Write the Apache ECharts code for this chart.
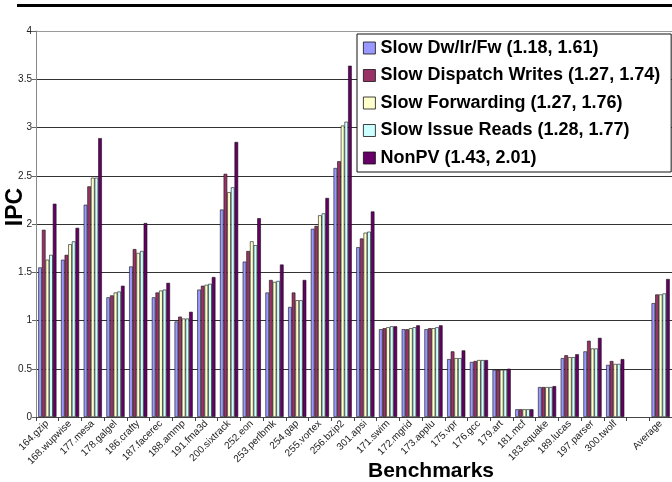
<!DOCTYPE html>
<html>

<head>
	<meta charset="utf-8">
	<title>IPC</title>
	<style type="text/css">
	html, body {
		margin: 0;
		padding: 0;
		background: #fff;
	}

	#chart {
		width: 672px;
		height: 482px;
	}
	</style>
</head>

<body>
	<div id="chart"></div>
	<script src="https://cdn.jsdelivr.net/npm/echarts@6/dist/echarts.min.js"></script>
	<script>
	var benchmarks = ['164.gzip', '168.wupwise', '177.mesa', '178.galgel', '186.crafty', '187.facerec', '188.ammp',
		'191.fma3d', '200.sixtrack', '252.eon', '253.perlbmk', '254.gap', '255.vortex', '256.bzip2', '301.apsi',
		'171.swim', '172.mgrid', '173.applu', '175.vpr', '176.gcc', '179.art', '181.mcf', '183.equake', '189.lucas',
		'197.parser', '300.twolf', '', 'Average'];

	var legendNames = ['Slow Dw/Ir/Fw (1.18, 1.61)', 'Slow Dispatch Writes (1.27, 1.74)', 'Slow Forwarding (1.27, 1.76)',
		'Slow Issue Reads (1.28, 1.77)', 'NonPV (1.43, 2.01)'];
	var colors = ['#9999ff', '#993366', '#ffffcc', '#ccffff', '#660066'];

	var dwIrFw = [1.55, 1.63, 2.20, 1.24, 1.56, 1.24, 0.99, 1.32, 2.15, 1.61, 1.29, 1.14, 1.95, 2.58, 1.76,
		0.91, 0.91, 0.91, 0.60, 0.57, 0.49, 0.08, 0.31, 0.61, 0.68, 0.54, null, 1.18];
	var dispatchWrites = [1.94, 1.68, 2.39, 1.26, 1.74, 1.29, 1.04, 1.36, 2.52, 1.72, 1.42, 1.29, 1.98, 2.65, 1.85,
		0.92, 0.91, 0.92, 0.68, 0.58, 0.49, 0.08, 0.31, 0.64, 0.79, 0.58, null, 1.27];
	var forwarding = [1.63, 1.79, 2.48, 1.29, 1.70, 1.31, 1.02, 1.37, 2.33, 1.82, 1.40, 1.21, 2.09, 3.02, 1.91,
		0.93, 0.92, 0.92, 0.61, 0.59, 0.49, 0.08, 0.31, 0.62, 0.71, 0.55, null, 1.27];
	var issueReads = [1.68, 1.82, 2.48, 1.30, 1.72, 1.32, 1.02, 1.38, 2.38, 1.78, 1.41, 1.21, 2.11, 3.06, 1.92,
		0.94, 0.93, 0.93, 0.61, 0.59, 0.49, 0.08, 0.31, 0.62, 0.71, 0.55, null, 1.28];
	var nonPV = [2.21, 1.96, 2.89, 1.36, 2.01, 1.39, 1.09, 1.45, 2.85, 2.06, 1.58, 1.42, 2.27, 3.64, 2.13,
		0.94, 0.95, 0.95, 0.69, 0.59, 0.50, 0.08, 0.32, 0.65, 0.82, 0.60, null, 1.43];

	var font = "'Liberation Sans', Arial, sans-serif";
	var allSeries = [dwIrFw, dispatchWrites, forwarding, issueReads, nonPV];

	function makeSeries(i) {
		return {
			name: legendNames[i],
			type: 'bar',
			barGap: '0%',
			barCategoryGap: '20%',
			animation: false,
			itemStyle: {
				color: colors[i],
				borderColor: '#111',
				borderWidth: 0.6
			},
			data: allSeries[i]
		};
	}

	var chart = echarts.init(document.getElementById('chart'));
	chart.setOption({
		backgroundColor: '#fff',
		textStyle: { fontFamily: font },
		grid: {
			left: 36,
			right: -4,
			top: 31,
			bottom: 65
		},
		legend: {
			orient: 'vertical',
			left: 357,
			top: 34,
			padding: [5, 11, 5, 6],
			itemWidth: 12,
			itemHeight: 12,
			itemGap: 9.5,
			icon: 'rect',
			backgroundColor: '#fff',
			borderColor: '#111',
			borderWidth: 1,
			itemStyle: { borderColor: '#111', borderWidth: 0.8 },
			textStyle: {
				fontFamily: font,
				fontSize: 18,
				fontWeight: 'bold',
				color: '#000',
				lineHeight: 18
			},
			data: legendNames
		},
		xAxis: {
			type: 'category',
			data: benchmarks,
			axisLine: { lineStyle: { color: '#444', width: 1 } },
			axisTick: { show: true, interval: 0, length: 4, lineStyle: { color: '#444' } },
			axisLabel: {
				interval: 0,
				rotate: 45,
				fontSize: 10,
				color: '#222',
				margin: 5,
				fontFamily: font
			}
		},
		yAxis: {
			type: 'value',
			min: 0,
			max: 4,
			interval: 0.5,
			axisLine: { show: true, lineStyle: { color: '#888', width: 1 } },
			axisTick: { show: true, length: 4, lineStyle: { color: '#666' } },
			axisLabel: { fontSize: 10, color: '#222', margin: 4, fontFamily: font },
			splitLine: {
				show: true,
				lineStyle: {
					color: ['#333', '#333', '#333', '#333', '#333', '#333', '#333', '#333', '#999'],
					width: 1
				}
			}
		},
		graphic: [{
			type: 'rect',
			shape: { x: 17, y: 4, width: 660, height: 3 },
			style: { fill: '#000' }
		}, {
			type: 'text',
			x: 16,
			y: 207,
			rotation: Math.PI / 2,
			style: {
				text: 'IPC',
				font: 'bold 23px ' + font,
				fill: '#000',
				align: 'center',
				verticalAlign: 'middle'
			}
		}, {
			type: 'text',
			x: 431,
			y: 471,
			style: {
				text: 'Benchmarks',
				font: 'bold 21px ' + font,
				fill: '#000',
				align: 'center',
				verticalAlign: 'middle'
			}
		}],
		series: [makeSeries(0), makeSeries(1), makeSeries(2), makeSeries(3), makeSeries(4)]
	});
	</script>
</body>

</html>
